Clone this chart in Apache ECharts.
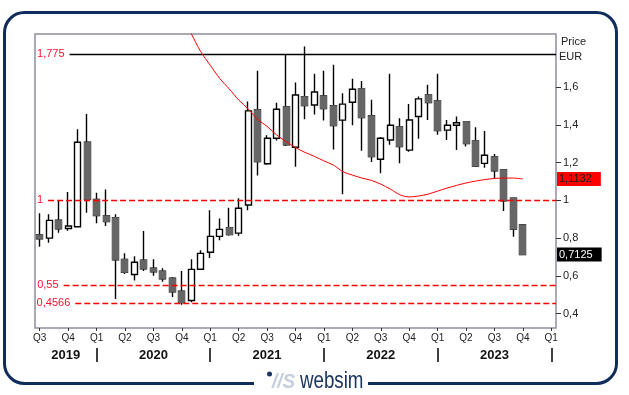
<!DOCTYPE html>
<html>
<head>
<meta charset="utf-8">
<script src="https://cdn.jsdelivr.net/npm/echarts@6/dist/echarts.min.js"></script>
<style>
html,body{margin:0;padding:0;background:#fff;}
#c{width:629px;height:395px;}
</style>
</head>
<body>
<div id="c"></div>
<script>
// Monthly categories Jul 2019 .. Jan 2024
var months = [];
(function(){ var y=2019, m=7; for (var i=0;i<55;i++){ months.push(y+'-'+(m<10?'0'+m:m)); m++; if(m>12){m=1;y++;} } })();

var openV  = [0.816,0.800,0.895,0.851,0.860,1.308,1.005,0.917,0.908,0.687,0.607,0.683,0.640,0.625,0.587,0.518,0.469,0.635,0.725,0.809,0.855,0.826,0.975,1.480,1.194,1.329,1.495,1.281,1.549,1.505,1.553,1.501,1.425,1.520,1.591,1.448,1.218,1.320,1.389,1.266,1.444,1.559,1.527,1.372,1.398,1.416,1.315,1.196,1.230,1.161,1.012,0.869];
var closeV = [0.796,0.894,0.849,0.864,1.308,1.005,0.920,0.888,0.685,0.619,0.672,0.637,0.621,0.584,0.515,0.458,0.634,0.719,0.809,0.846,0.819,0.958,1.474,1.205,1.329,1.483,1.295,1.558,1.502,1.574,1.486,1.396,1.510,1.589,1.439,1.232,1.329,1.398,1.285,1.426,1.538,1.518,1.370,1.398,1.411,1.301,1.182,1.239,1.157,0.998,0.848,0.7125];
var lowV   = [0.754,0.775,0.828,0.839,0.858,0.934,0.878,0.864,0.477,0.609,0.575,0.626,0.600,0.568,0.488,0.446,0.460,0.631,0.695,0.789,0.812,0.812,0.948,1.131,1.189,1.317,1.288,1.178,1.430,1.455,1.423,1.269,1.032,1.398,1.263,1.203,1.143,1.294,1.196,1.258,1.326,1.426,1.347,1.320,1.267,1.285,1.177,1.173,1.117,0.943,0.807,0.7125];
var highV  = [0.931,0.926,0.998,1.044,1.377,1.458,1.040,1.058,0.926,0.719,0.704,0.837,0.688,0.640,0.594,0.626,0.688,0.736,0.948,0.904,0.961,1.011,1.524,1.687,1.345,1.517,1.775,1.625,1.816,1.671,1.687,1.719,1.568,1.644,1.632,1.533,1.336,1.671,1.435,1.511,1.550,1.612,1.671,1.426,1.444,1.416,1.388,1.368,1.246,1.161,1.012,0.874];
// long moving average (starts at index 15)
var maStart = 15;
var maV = [1.98,1.883,1.788,1.716,1.646,1.591,1.532,1.485,1.429,1.392,1.347,1.311,1.280,1.254,1.233,1.209,1.187,1.152,1.134,1.118,1.106,1.086,1.060,1.030,1.018,1.023,1.033,1.049,1.065,1.079,1.092,1.102,1.110,1.116,1.118,1.118,1.1132];
var yTicks = [0.4,0.6,0.8,1.0,1.2,1.4,1.6];
var levelTop = 1.775, levelOne = 1, level55 = 0.55, level4566 = 0.4566;
var maLast = 1.1132, lastClose = 0.7125;

var candleAll = [], candleDown = [], maData = [];
for (var i=0;i<months.length;i++){
  if (i < openV.length){
    candleAll.push([openV[i], closeV[i], lowV[i], highV[i]]);
    if (closeV[i] < openV[i]) {
      candleDown.push([openV[i], closeV[i], Math.min(openV[i],closeV[i]), Math.max(openV[i],closeV[i])]);
    } else candleDown.push('-');
  } else { candleAll.push('-'); candleDown.push('-'); }
  var k = i - maStart;
  maData.push(k >= 0 && k < maV.length ? maV[k] : '-');
}

function fmt(v){ return String(+(+v).toFixed(4)).replace('.', ','); }

var FONT = 'Liberation Sans, Arial, sans-serif';
var RED = '#ff0000';
var LBLRED = '#ff1030';

function levelLine(val, startX, color, type, width, label){
  return [{ coord:[startX, val], lineStyle:{color:color, type:type, width:width},
            label:{show:true, position:'start', distance:5, formatter:label, color:LBLRED, fontSize:11, fontFamily:FONT} },
          { coord:[54.5, val] }];
}
function boxLine(val, bg, fg){
  return [{ coord:[53, val], lineStyle:{color:'rgba(0,0,0,0)', width:1, type:'solid'},
            label:{show:true, position:'end', distance:1, formatter:fmt(val), color:fg, fontSize:11, fontFamily:FONT,
                   backgroundColor:bg, padding:[2,9,1,2]} },
          { coord:[54.5, val] }];
}

var chart = echarts.init(document.getElementById('c'), null, {renderer:'canvas'});
chart.setOption({
  animation:false,
  backgroundColor:'#fff',
  grid:{left:35, top:34, width:521, height:294, show:true, borderColor:'#8f8fa0', borderWidth:1.5, backgroundColor:'#fff'},
  xAxis:[
    { type:'category', data:months, boundaryGap:true, position:'bottom',
      axisLine:{show:false, onZero:false},
      axisTick:{show:true, alignWithLabel:true, interval:2, length:3, lineStyle:{color:'#333'}},
      axisLabel:{interval:2, margin:5, fontSize:10, fontFamily:FONT, color:'#222',
        formatter:function(v){ var m=+v.slice(5); return 'Q'+(Math.floor((m-1)/3)+1); }},
      splitLine:{show:false} },
    { type:'category', data:months, boundaryGap:true, position:'bottom', offset:20,
      axisLine:{show:false, onZero:false},
      axisTick:{show:true, alignWithLabel:true, length:14, lineStyle:{color:'#000', width:1.5},
        interval:function(i, v){ return v.slice(5) === '01'; }},
      axisLabel:{margin:1, fontSize:13, fontWeight:'bold', fontFamily:FONT, color:'#111',
        interval:function(i, v){ return v === '2019-10' || (v.slice(5) === '07' && v !== '2019-07'); },
        formatter:function(v){ return v.slice(0,4) === '2019' ? '{l|2019}' : v.slice(0,4); },
        rich:{l:{fontSize:13, fontWeight:'bold', fontFamily:FONT, color:'#111', padding:[0,5,0,0]}} },
      splitLine:{show:false} },
    { type:'value', min:-0.5, max:54.5, show:false, gridIndex:0, axisLine:{onZero:false} }
  ],
  yAxis:[{
    type:'value', position:'right', min:0.3234, max:1.8816, scale:true,
    axisLine:{show:false, onZero:false},
    splitLine:{show:false},
    axisTick:{show:true, length:5, customValues:yTicks, lineStyle:{color:'#333'}},
    axisLabel:{customValues:yTicks, margin:7, fontSize:11, fontFamily:FONT, color:'#222', formatter:function(v){ return fmt(v); }}
  }],
  series:[
    { type:'candlestick', xAxisIndex:0, yAxisIndex:0, data:candleAll, barWidth:6.5, z:3,
      itemStyle:{color:'#ffffff', color0:'#666666', borderColor:'#000000', borderColor0:'#000000', borderWidth:1.4} },
    { type:'candlestick', xAxisIndex:0, yAxisIndex:0, data:candleDown, barWidth:6.5, z:4,
      itemStyle:{color:'#666666', color0:'#666666', borderColor:'#666666', borderColor0:'#666666', borderWidth:1} },
    { type:'line', xAxisIndex:0, yAxisIndex:0, data:maData, symbol:'none', smooth:0.3, z:5,
      lineStyle:{color:RED, width:1}, clip:true },
    { type:'line', xAxisIndex:2, yAxisIndex:0, data:[], symbol:'none', z:6,
      markLine:{ silent:true, symbol:['none','none'], animation:false,
        data:[
          levelLine(levelTop, 3.15, '#000000', 'solid', 1.3, '1,775'),
          levelLine(levelOne, 0.88, RED, [6,3], 1.3, '1'),
          levelLine(level55, 2.52, RED, [6,3], 1.3, '0,55'),
          levelLine(level4566, 3.75, RED, [6,3], 1.3, '0,4566'),
          boxLine(maLast, '#ff0000', '#1a1a1a'),
          boxLine(lastClose, '#000000', '#ffffff')
        ] } }
  ],
  graphic:[
    { type:'rect', shape:{x:4.5, y:12.5, width:612, height:371, r:20}, style:{fill:'none', stroke:'#0f2c5c', lineWidth:3}, z:10 },
    { type:'rect', shape:{x:254, y:376, width:114, height:14}, style:{fill:'#ffffff'}, z:11 },
    { type:'circle', shape:{cx:269.5, cy:374, r:2.5}, style:{fill:'#1a3561'}, z:12 },
    { type:'text', x:272, y:382, scaleX:0.9, style:{text:'//S', font:'italic bold 21px '+FONT, fill:'#c5cedc', textVerticalAlign:'middle'}, z:12 },
    { type:'text', x:300, y:381, scaleX:0.78, style:{text:'websim', font:'24px '+FONT, fill:'#1a3561', textVerticalAlign:'middle'}, z:12 },
    { type:'text', x:561, y:42, style:{text:'Price', font:'11px '+FONT, fill:'#222', textVerticalAlign:'middle'}, z:12 },
    { type:'text', x:559, y:57, style:{text:'EUR', font:'11px '+FONT, fill:'#222', textVerticalAlign:'middle'}, z:12 }
  ]
});
</script>
</body>
</html>
